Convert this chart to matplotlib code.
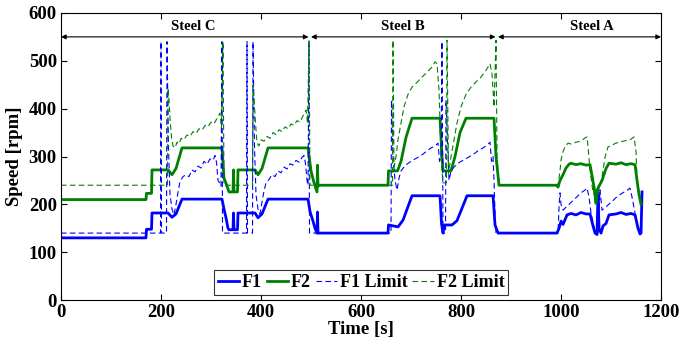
import numpy as np
import matplotlib
matplotlib.use("Agg")
import matplotlib.pyplot as plt

# ---- data (time in s, speed in rpm) ----
f1_t = [0, 170, 171, 181, 182, 214, 222, 230, 242, 322, 326, 330, 334, 336, 344, 345, 346, 353,
        354, 388, 394, 402, 414, 494, 498, 504, 508, 512, 513, 514, 654, 655, 674, 684, 702,
        758, 761, 764, 766, 782, 792, 812, 864, 868, 874, 992, 996, 1000, 1004, 1012, 1020,
        1030, 1040, 1050, 1058, 1064, 1068, 1072, 1074, 1076, 1080, 1084, 1090, 1096, 1110,
        1120, 1130, 1140, 1148, 1154, 1158, 1160, 1162]
f1_v = [130, 130, 148, 148, 182, 182, 173, 180, 211, 211, 190, 172, 150, 147, 147, 182, 147, 147,
        182, 182, 172, 180, 211, 211, 185, 165, 150, 140, 184, 140, 140, 157, 153, 167, 218,
        218, 160, 140, 157, 157, 166, 218, 218, 157, 140, 140, 150, 165, 158, 178, 181,
        178, 183, 180, 180, 155, 140, 137, 226, 150, 140, 155, 160, 178, 180,
        183, 179, 181, 178, 150, 138, 140, 226]

f2_t = [0, 170, 171, 181, 182, 214, 222, 230, 242, 322, 326, 330, 336, 344, 345, 346, 353,
        354, 388, 394, 402, 414, 494, 500, 506, 512, 513, 514, 516, 654, 655, 673, 680, 690,
        702, 758, 762, 764, 780, 788, 798, 810, 866, 870, 876, 992, 994, 998, 1004, 1010,
        1016, 1020, 1030, 1040, 1050, 1058, 1062, 1066, 1070, 1072, 1076, 1082, 1090, 1096,
        1110, 1120, 1130, 1140, 1148, 1152, 1156, 1160]
f2_v = [210, 210, 223, 223, 272, 272, 262, 275, 318, 318, 255, 244, 226, 226, 272, 226, 226,
        272, 272, 262, 275, 318, 318, 270, 245, 226, 282, 238, 240, 240, 270, 270, 290, 340,
        380, 380, 300, 270, 270, 300, 350, 380, 380, 300, 240, 240, 236, 250, 262, 276,
        284, 286, 283, 285, 282, 283, 260, 236, 202, 230, 238, 250, 275, 286,
        284, 287, 283, 285, 283, 250, 220, 200]

f1_lim_t = [0, 199, 200, 201, 211, 212, 215, 218, 222, 226, 230, 234, 238, 244, 250, 256, 262,
            268, 274, 280, 286, 292, 298, 304, 308, 311, 314, 317, 320, 322, 323, 371, 372,
            373, 383, 384, 387, 390, 394, 398, 402, 406, 410, 416, 422, 428, 434, 440, 446,
            452, 458, 464, 470, 476, 482, 486, 489, 492, 494, 496, 497, 660, 661, 664, 668,
            672, 676, 680, 686, 692, 700, 710, 720, 730, 740, 748, 754, 757, 760, 762, 764,
            769, 770, 773, 776, 780, 786, 794, 804, 814, 824, 834, 844, 852, 858, 861, 864,
            866, 868, 870, 994, 996, 998, 1000, 1004, 1012, 1020, 1030, 1040, 1048, 1052,
            1056, 1060, 1066, 1068, 1074, 1078, 1082, 1090, 1100, 1110, 1120, 1130, 1138,
            1142, 1148, 1154, 1158]
f1_lim_v = [140, 140, 540, 140, 140, 540, 320, 220, 190, 178, 200, 225, 248, 258, 262, 258, 272,
            268, 280, 276, 290, 284, 295, 292, 302, 288, 250, 245, 238, 540, 140, 140, 540,
            140, 140, 540, 320, 220, 190, 180, 205, 228, 245, 252, 262, 258, 270, 266, 278,
            274, 285, 282, 292, 288, 298, 302, 285, 250, 240, 540, 140, 140, 418, 300, 250,
            230, 255, 270, 278, 284, 290, 296, 302, 310, 318, 322, 328, 290, 300, 540, 140,
            140, 418, 335, 250, 270, 278, 286, 292, 298, 304, 312, 318, 324, 330, 290, 300,
            250, 180, 140, 140, 195, 224, 200, 188, 196, 204, 214, 224, 230, 234,
            215, 182, 153, 140, 140, 230, 188, 195, 204, 214, 222, 228, 234,
            215, 182, 153, 140]

f2_lim_t = [0, 213, 214, 216, 218, 221, 224, 228, 232, 236, 240, 246, 252, 258, 264, 270, 276,
            282, 288, 294, 300, 306, 312, 318, 321, 324, 326, 383, 384, 386, 389, 392, 396,
            400, 406, 412, 418, 424, 430, 436, 442, 448, 454, 460, 466, 472, 478, 484, 490,
            493, 496, 498, 663, 664, 666, 670, 674, 680, 686, 694, 702, 712, 722, 732, 742,
            748, 752, 756, 760, 764, 771, 772, 775, 780, 786, 792, 800, 810, 820, 830, 840,
            850, 858, 862, 866, 870, 872, 876, 994, 998, 1000, 1004, 1008, 1014, 1020, 1030,
            1040, 1048, 1052, 1054, 1058, 1064, 1072, 1082, 1088, 1094, 1110, 1124, 1138,
            1146, 1150, 1152, 1160]
f2_lim_v = [240, 240, 443, 420, 380, 340, 322, 318, 330, 326, 338, 335, 345, 342, 352, 348, 358,
            355, 365, 362, 372, 368, 380, 391, 360, 540, 240, 240, 450, 420, 370, 328, 322,
            335, 332, 342, 338, 350, 346, 356, 352, 362, 358, 368, 365, 375, 372, 385, 397,
            370, 543, 240, 240, 543, 278, 300, 335, 370, 404, 430, 445, 455, 466, 476, 487,
            498, 494, 439, 299, 245, 245, 543, 265, 300, 335, 370, 404, 430, 445, 456, 466,
            480, 494, 473, 404, 543, 300, 240, 240, 270, 293, 310, 320, 328, 326, 330,
            332, 339, 341, 320, 272, 224, 215, 257, 299, 320, 328, 332, 335,
            341, 310, 251, 203]

steel_names = ["Steel C", "Steel B", "Steel A"]
steel_spans = [(0, 495), (500, 869), (874, 1200)]
steel_label_x = [264, 684, 1062]

x_ticks = [0, 200, 400, 600, 800, 1000, 1200]
y_ticks = [0, 100, 200, 300, 400, 500, 600]

# ---- style ----
plt.rcParams['font.family'] = ['Liberation Serif', 'DejaVu Serif']
plt.rcParams['font.weight'] = 'bold'
plt.rcParams['axes.labelweight'] = 'bold'

blue = '#0000ff'
green = '#008000'

fig = plt.figure(figsize=(6.8, 3.41), dpi=100)
ax = fig.add_axes([0.0897, 0.12, 0.8824, 0.842])

ax.plot(f1_t, f1_v, color=blue, lw=2.0, label='F1')
ax.plot(f2_t, f2_v, color=green, lw=2.0, label='F2')
ax.plot(f1_lim_t, f1_lim_v, color=blue, lw=0.8, dashes=(5, 3), label='F1 Limit')
ax.plot(f2_lim_t, f2_lim_v, color=green, lw=0.8, dashes=(5, 3), label='F2 Limit')

# steel grade spans
for name, (a, b), lx in zip(steel_names, steel_spans, steel_label_x):
    ax.annotate('', xy=(a, 550), xytext=(b, 550),
                arrowprops=dict(arrowstyle='<|-|>', color='black', lw=0.8,
                                mutation_scale=7, shrinkA=0, shrinkB=0))
    ax.text(lx, 572, name, ha='center', va='center', fontsize=10.5,
            fontweight='bold', bbox=dict(facecolor='white', edgecolor='none', pad=0.5))

ax.set_xlim(0, 1200)
ax.set_ylim(0, 600)
ax.set_xticks(x_ticks)
ax.set_yticks(y_ticks)
ax.tick_params(direction='in', top=True, right=True, length=4, labelsize=13.5, pad=3)
for lab in ax.get_xticklabels() + ax.get_yticklabels():
    lab.set_fontweight('bold')
ax.set_xlabel('Time [s]', fontsize=13.5, labelpad=0)
ax.set_ylabel('Speed [rpm]', fontsize=13.5, labelpad=4)

leg = ax.legend(loc='lower center', bbox_to_anchor=(0.5, 0.0), ncol=4, fontsize=13,
                frameon=True, fancybox=False, edgecolor='black', handlelength=1.2,
                handletextpad=0.15, columnspacing=0.25, borderpad=0.2, borderaxespad=0.3)
leg.get_frame().set_linewidth(0.8)

fig.savefig('out.png', dpi=100)
